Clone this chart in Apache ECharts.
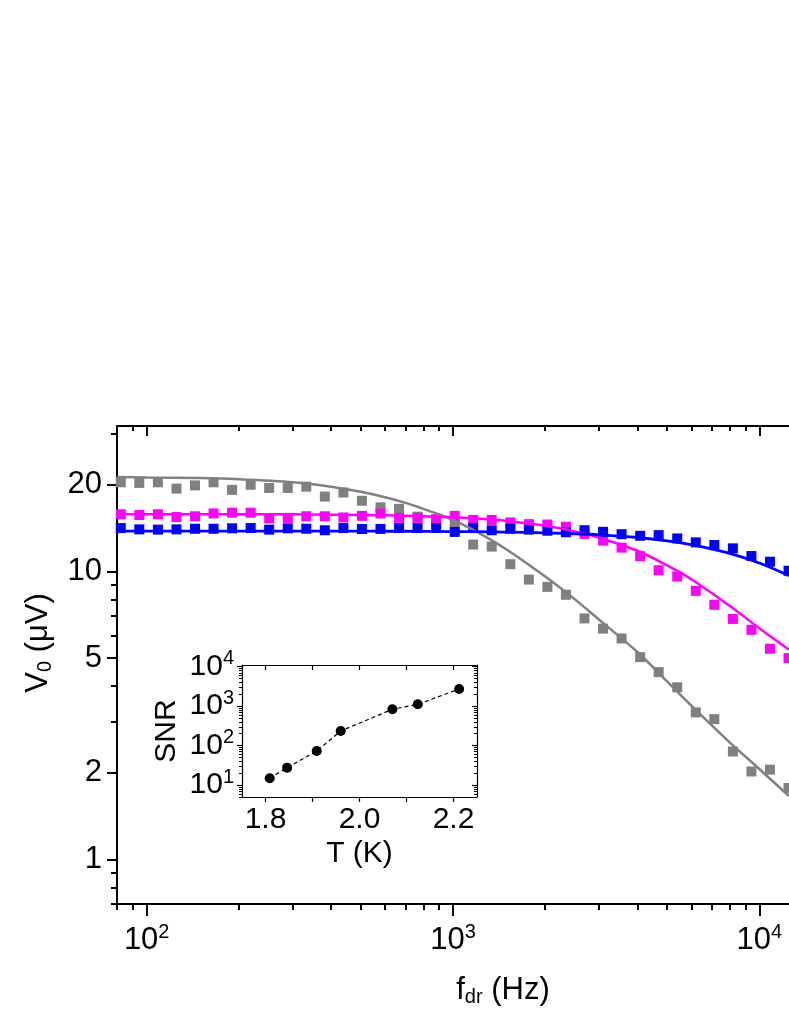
<!DOCTYPE html>
<html>
<head>
<meta charset="utf-8">
<script src="https://cdn.jsdelivr.net/npm/echarts@6/dist/echarts.min.js"></script>
<style>
  html, body { margin: 0; padding: 0; background: #fff; }
  #chart { width: 789px; height: 1021px; }
</style>
</head>
<body>
<div id="chart"></div>
<script>
// Drive frequency of every measured point (Hz)
const freqs = [82.3, 94.6, 108.8, 125.1, 143.8, 165.3, 190.0, 218.5, 251.1, 288.8,
  331.9, 381.6, 438.7, 504.3, 579.8, 666.6, 766.2, 880.9, 1013, 1164,
  1338, 1539, 1769, 2033, 2337, 2687, 3089, 3551, 4083, 4693,
  5395, 6203, 7131, 8198, 9424, 10834, 12455];

// Measured amplitudes V0 (uV)
const grayV = [20.4, 20.3, 20.4, 19.4, 19.9, 20.4, 19.2, 20.0, 19.5, 19.5,
  19.7, 18.2, 18.8, 17.6, 16.7, 16.5, 15.5, 15.0, 14.6, 12.4,
  12.2, 10.6, 9.37, 8.84, 8.3, 6.87, 6.33, 5.85, 5.04, 4.47,
  3.96, 3.24, 3.07, 2.37, 2.02, 2.05, 1.77];
const pinkV = [15.8, 15.7, 15.8, 15.45, 15.55, 15.9, 16.0, 16.0, 15.3, 15.35,
  15.55, 15.55, 15.4, 15.6, 15.9, 15.35, 15.35, 15.2, 15.6, 15.1,
  15.1, 14.8, 14.6, 14.55, 14.3, 13.5, 12.8, 12.1, 11.3, 10.1,
  9.6, 8.56, 7.66, 6.84, 6.27, 5.39, 5.0];
const blueV = [14.15, 14.0, 13.97, 14.0, 14.07, 14.07, 14.12, 14.15, 13.97, 14.12,
  14.07, 13.9, 14.15, 14.04, 14.05, 14.15, 14.15, 14.15, 13.72, 14.15,
  13.9, 14.07, 13.97, 13.85, 13.68, 13.91, 13.73, 13.47, 13.3, 13.37,
  13.02, 12.62, 12.35, 12.03, 11.31, 10.81, 10.06];

// Fitted curves
const fitFreqs = [80, 100, 150, 200, 300, 400, 500, 600, 700, 800, 900, 1000,
  1200, 1500, 2000, 2500, 3000, 4000, 5000, 6000, 8000, 10000, 12500];
const grayFit = [21.3, 21.2, 21.1, 20.9, 20.4, 19.7, 18.9, 18.1, 17.3, 16.5, 15.8, 15.1,
  13.7, 11.9, 9.6, 8.0, 6.8, 5.25, 4.15, 3.42, 2.55, 2.06, 1.66];
const pinkFit = [15.8, 15.8, 15.8, 15.8, 15.8, 15.75, 15.7, 15.66, 15.61, 15.55, 15.49, 15.42,
  15.26, 14.97, 14.41, 13.78, 13.1, 11.8, 10.5, 9.4, 7.6, 6.35, 5.35];
const blueFit = [13.8, 13.8, 13.8, 13.8, 13.8, 13.8, 13.8, 13.79, 13.79, 13.78, 13.77, 13.75,
  13.74, 13.7, 13.62, 13.52, 13.4, 13.12, 12.78, 12.4, 11.56, 10.7, 9.67];

// Inset: SNR vs temperature
const tempK = [1.809, 1.846, 1.909, 1.960, 2.070, 2.124, 2.212];
const snr = [14.9, 27.7, 73, 234, 830, 1110, 2710];

// Tick values
const vMajor = [1, 2, 5, 10, 20];
const vMinor = [0.7, 0.8, 0.9, 3, 4, 6, 7, 8, 9, 30];
const fMajor = [100, 1000, 10000];
const fMinor = [80, 90, 200, 300, 400, 500, 600, 700, 800, 900,
  2000, 3000, 4000, 5000, 6000, 7000, 8000, 9000];
const tTicks = [1.8, 1.9, 2.0, 2.1, 2.2];
const tLabels = [1.8, 2.0, 2.2];
const snrMajor = [10, 100, 1000, 10000];
const snrMinor = [5, 6, 7, 8, 9, 20, 30, 40, 50, 60, 70, 80, 90,
  200, 300, 400, 500, 600, 700, 800, 900, 2000, 3000, 4000, 5000, 6000, 7000, 8000, 9000];

const FONT = "Liberation Sans";
const pow10 = (v) => `10{sup|${Math.round(Math.log10(v))}}`;
const supRich = {
  sup: { fontSize: 20, fontFamily: FONT, color: "#000", padding: [0, 0, 16, 0] },
};
const subRich = {
  sub: { fontSize: 20, fontFamily: FONT, color: "#000", padding: [13, 0, 0, 0] },
};

// one axis = one set of ticks (major or minor), sharing the same scale
function makeAxis(o) {
  return {
    type: o.type || "log",
    gridIndex: o.grid,
    position: o.pos,
    min: o.min,
    max: o.max,
    axisLine: { show: !!o.line, lineStyle: { color: "#000", width: o.lw || 2 } },
    axisTick: {
      show: true,
      inside: !!o.inside,
      length: o.len,
      customValues: o.ticks,
      lineStyle: { color: "#000", width: o.lw || 2 },
    },
    axisLabel: o.labels
      ? {
          show: true,
          customValues: o.labels,
          formatter: o.fmt,
          margin: o.margin,
          fontSize: o.fs || 31,
          fontFamily: FONT,
          color: "#000",
          rich: o.rich,
        }
      : { show: false },
    splitLine: { show: false },
    name: o.name,
    nameLocation: "middle",
    nameGap: o.nameGap,
    nameTextStyle: {
      fontSize: o.fs || 31,
      fontFamily: FONT,
      color: "#000",
      padding: o.namePad || 0,
      rich: o.nameRich,
    },
  };
}

const chart = echarts.init(document.getElementById("chart"), null, { renderer: "canvas" });

const option = {
  animation: false,
  backgroundColor: "#fff",
  grid: [
    { left: 117, top: 426, right: -3, bottom: 117 },
    { left: 242, top: 665, width: 235, height: 132 },
  ],
  xAxis: [
    makeAxis({ grid: 0, pos: "bottom", min: 80, max: 12500, line: true, len: 12, ticks: fMajor,
      labels: fMajor, fmt: pow10, rich: supRich, margin: 18,
      name: "f{sub|dr} (Hz)", nameGap: 70, nameRich: subRich, namePad: [0, 0, 0, 100] }),
    makeAxis({ grid: 0, pos: "bottom", min: 80, max: 12500, len: 6, ticks: fMinor }),
    makeAxis({ grid: 0, pos: "top", min: 80, max: 12500, line: true, inside: true, len: 10, ticks: fMajor }),
    makeAxis({ grid: 0, pos: "top", min: 80, max: 12500, inside: true, len: 5, ticks: fMinor }),
    makeAxis({ type: "value", grid: 1, pos: "bottom", min: 1.75, max: 2.25, line: true, lw: 1.2, len: 5,
      ticks: tTicks, labels: tLabels, fmt: (v) => v.toFixed(1), margin: 8, fs: 30,
      name: "T (K)", nameGap: 42 }),
    makeAxis({ type: "value", grid: 1, pos: "top", min: 1.75, max: 2.25, line: true, lw: 1.2,
      inside: true, len: 5, ticks: tTicks }),
  ],
  yAxis: [
    makeAxis({ grid: 0, pos: "left", min: 0.7, max: 32, line: true, len: 10, ticks: vMajor,
      labels: vMajor, fmt: (v) => String(v), margin: 15,
      name: "V{sub|0} (μV)", nameGap: 62, nameRich: subRich, namePad: [0, 0, 0, 44] }),
    makeAxis({ grid: 0, pos: "left", min: 0.7, max: 32, len: 6, ticks: vMinor }),
    makeAxis({ grid: 1, pos: "left", min: 5, max: 11000, line: true, lw: 1.2, len: 5, ticks: snrMajor,
      labels: snrMajor, fmt: pow10, rich: supRich, margin: 8, fs: 30,
      name: "SNR", nameGap: 60 }),
    makeAxis({ grid: 1, pos: "left", min: 5, max: 11000, lw: 1, len: 3, ticks: snrMinor }),
    makeAxis({ grid: 1, pos: "right", min: 5, max: 11000, line: true, lw: 1.2, inside: true, len: 5, ticks: snrMajor }),
    makeAxis({ grid: 1, pos: "right", min: 5, max: 11000, lw: 1, inside: true, len: 3, ticks: snrMinor }),
  ],
  series: [
    {
      type: "scatter", xAxisIndex: 0, yAxisIndex: 0, symbol: "rect", symbolSize: 10,
      itemStyle: { color: "#808080", opacity: 1 },
      data: freqs.map((f, i) => [f, grayV[i]]),
    },
    {
      type: "scatter", xAxisIndex: 0, yAxisIndex: 0, symbol: "rect", symbolSize: 10,
      itemStyle: { color: "#ff00ff", opacity: 1 },
      data: freqs.map((f, i) => [f, pinkV[i]]),
    },
    {
      type: "scatter", xAxisIndex: 0, yAxisIndex: 0, symbol: "rect", symbolSize: 10,
      itemStyle: { color: "#0000ff", opacity: 1 },
      data: freqs.map((f, i) => [f, blueV[i]]),
    },
    {
      type: "line", xAxisIndex: 0, yAxisIndex: 0, smooth: 0.3, showSymbol: false,
      lineStyle: { color: "#808080", width: 2.5 },
      data: fitFreqs.map((f, i) => [f, grayFit[i]]),
    },
    {
      type: "line", xAxisIndex: 0, yAxisIndex: 0, smooth: 0.3, showSymbol: false,
      lineStyle: { color: "#ff00ff", width: 2.5 },
      data: fitFreqs.map((f, i) => [f, pinkFit[i]]),
    },
    {
      type: "line", xAxisIndex: 0, yAxisIndex: 0, smooth: 0.3, showSymbol: false,
      lineStyle: { color: "#0000ff", width: 2.8 },
      data: fitFreqs.map((f, i) => [f, blueFit[i]]),
    },
    {
      type: "line", xAxisIndex: 4, yAxisIndex: 2, symbol: "circle", symbolSize: 10,
      itemStyle: { color: "#000" },
      lineStyle: { color: "#000", width: 1.2, type: [4, 3] },
      data: tempK.map((t, i) => [t, snr[i]]),
    },
  ],
};

chart.setOption(option);
</script>
</body>
</html>
